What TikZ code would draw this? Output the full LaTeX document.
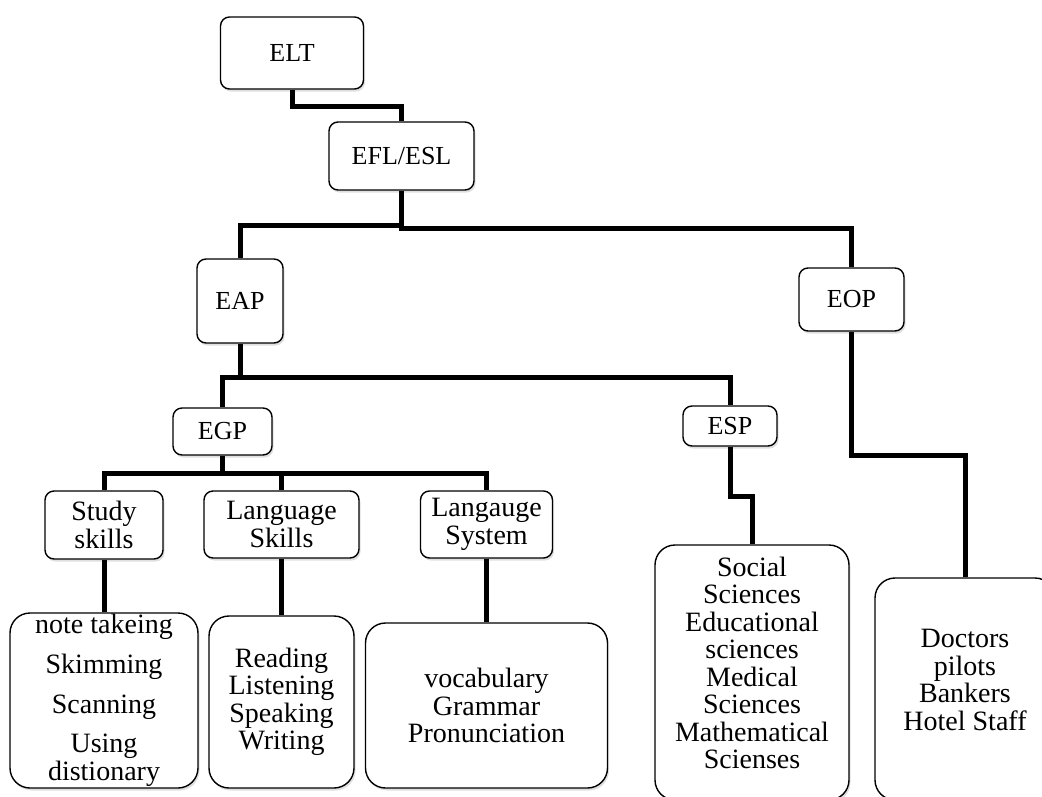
\documentclass[tikz,border=0pt]{standalone}
\usepackage{fontspec}
\setmainfont{Liberation Serif}
\usetikzlibrary{shadows}

\tikzset{
  catbox/.style={draw, line width=1.4pt, rounded corners=9pt, fill=white,
    inner sep=0pt, align=center, font=\fontsize{28}{27.5}\selectfont,
    drop shadow={shadow xshift=1.5pt, shadow yshift=-2.5pt, opacity=0.25}},
  acro/.style={font=\fontsize{26}{27.5}\selectfont},
  leafbox/.style={catbox, rounded corners=20pt},
  leaftext/.style={inner sep=0pt, align=center, font=\fontsize{28}{27.5}\selectfont},
  branch/.style={line width=5pt}
}

\begin{document}
\begin{tikzpicture}[x=1pt,y=-1pt]
  \useasboundingbox (0,0) rectangle (1042,796);
  % upper levels
  \node[catbox, acro, minimum width=143pt, minimum height=72pt] (elt) at (292,53) {ELT};
  \node[catbox, acro, minimum width=145pt, minimum height=68pt] (efl) at (401.5,156) {EFL/ESL};
  \node[catbox, acro, minimum width=86pt, minimum height=84pt] (eap) at (240,301) {EAP};
  \node[catbox, acro, minimum width=105pt, minimum height=63pt] (eop) at (851.5,299.5) {EOP};
  \node[catbox, acro, minimum width=99pt, minimum height=47pt] (egp) at (222.5,431.5) {EGP};
  \node[catbox, acro, minimum width=94pt, minimum height=40pt] (esp) at (730,426) {ESP};
  % EGP areas
  \node[catbox, minimum width=118pt, minimum height=68pt] (study) at (104,525) {Study\\skills};
  \node[catbox, minimum width=155pt, minimum height=67pt] (langskills) at (281.5,524.5) {Language\\Skills};
  \node[catbox, minimum width=132pt, minimum height=67pt] (langsys) at (486.5,524.5) {Langauge\\System};
  % leaves
  \node[leafbox, minimum width=188pt, minimum height=175pt] (notes) at (104,700.5)
    {note takeing\\[12.5pt]Skimming\\[12.5pt]Scanning\\[11.5pt]Using\\distionary};
  \node[leafbox, minimum width=145pt, minimum height=172pt] (reading) at (281.5,702)
    {Reading\\Listening\\Speaking\\Writing};
  \node[leafbox, minimum width=242pt, minimum height=165pt] (vocab) at (486.5,705.5)
    {vocabulary\\Grammar\\Pronunciation};
  \node[leafbox, minimum width=194pt, minimum height=255pt] (sciences) at (752,672.5) {};
  \node[leaftext] (sciencestext) at (752,663)
    {Social\\Sciences\\Educational\\sciences\\Medical\\Sciences\\Mathematical\\Scienses};
  \node[leafbox, minimum width=180pt, minimum height=222pt] (jobs) at (965,689) {};
  \node[leaftext] (jobstext) at (965,680) {Doctors\\pilots\\Bankers\\Hotel Staff};
  % branches
  \draw[branch] (elt.south) -- ++(0,17) -| (efl.north);
  \draw[branch] (efl.south) -- ++(0,35) -| (eap.north);
  \draw[branch] (efl.south) -- ++(0,38) -| (eop.north);
  \draw[branch] (eap.south) -- ++(0,34) -| (egp.north);
  \draw[branch] (eap.south) -- ++(0,34) -| (esp.north);
  \draw[branch] (egp.south) -- ++(0,18) -| (study.north);
  \draw[branch] (egp.south) -- ++(0,18) -| (langsys.north);
  \draw[branch] (langskills.north) -- ++(0,-18);
  \draw[branch] (study.south) -- (notes.north);
  \draw[branch] (langskills.south) -- (reading.north);
  \draw[branch] (langsys.south) -- (vocab.north);
  \draw[branch] (esp.south) -- ++(0,50) -| (sciences.north);
  \draw[branch] (eop.south) -- ++(0,124) -| (jobs.north);
\end{tikzpicture}
\end{document}
